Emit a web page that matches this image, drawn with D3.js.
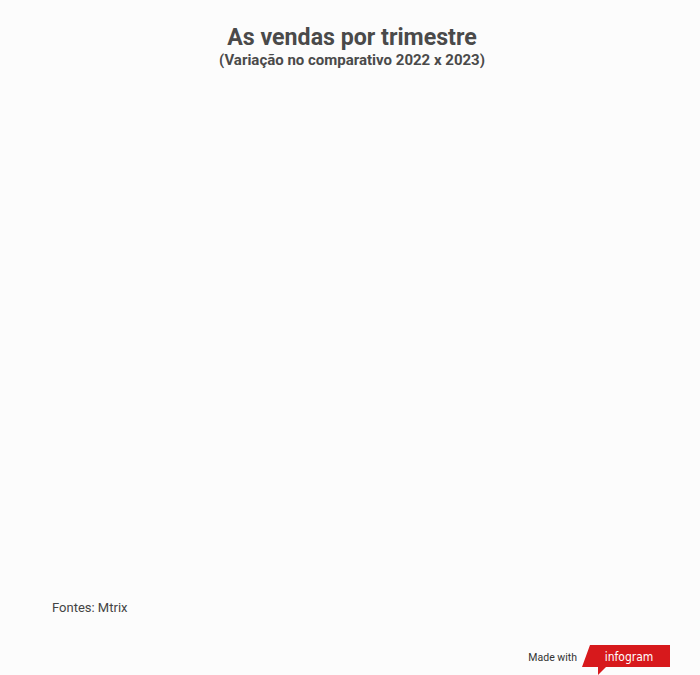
<!DOCTYPE html>
<html lang="pt">
<head>
<meta charset="utf-8">
<style>
  html, body { margin: 0; padding: 0; background: #fcfcfc; }
  svg { display: block; font-family: Roboto, "Noto Sans", sans-serif; }
</style>
</head>
<body>
<script src="https://d3js.org/d3.v7.min.js"></script>
<script>
// the reference shows no plotted marks: the data series are empty
var quarters = [];
var sales2022 = [];
var sales2023 = [];

var width = 700,
    height = 675;

var svg = d3.select("body").append("svg")
    .attr("width", width)
    .attr("height", height);

svg.append("rect")
    .attr("width", width)
    .attr("height", height)
    .attr("fill", "#fcfcfc");

// titles
svg.append("text")
    .attr("x", 352)
    .attr("y", 45)
    .attr("text-anchor", "middle")
    .attr("font-size", 23.2)
    .attr("font-weight", "bold")
    .attr("fill", "#4a4a4a")
    .text("As vendas por trimestre");

svg.append("text")
    .attr("x", 352)
    .attr("y", 65)
    .attr("text-anchor", "middle")
    .attr("font-size", 15)
    .attr("font-weight", "bold")
    .attr("fill", "#4a4a4a")
    .text("(Variação no comparativo 2022 x 2023)");

// plot area (empty in the reference)
var x = d3.scaleBand().domain(quarters).range([52, 650]).padding(0.3);
var y = d3.scaleLinear().domain([0, d3.max(sales2022.concat(sales2023)) || 1]).range([570, 100]);
var xs = d3.scaleBand().domain(["2022", "2023"]).range([0, x.bandwidth()]).padding(0.05);

var plot = svg.append("g");
plot.selectAll("rect.s2022")
    .data(sales2022)
    .enter().append("rect")
    .attr("class", "s2022")
    .attr("x", function (d, i) { return x(quarters[i]) + xs("2022"); })
    .attr("y", function (d) { return y(d); })
    .attr("width", xs.bandwidth())
    .attr("height", function (d) { return y(0) - y(d); })
    .attr("fill", "#c6c6c6");
plot.selectAll("rect.s2023")
    .data(sales2023)
    .enter().append("rect")
    .attr("class", "s2023")
    .attr("x", function (d, i) { return x(quarters[i]) + xs("2023"); })
    .attr("y", function (d) { return y(d); })
    .attr("width", xs.bandwidth())
    .attr("height", function (d) { return y(0) - y(d); })
    .attr("fill", "#d01f1f");

// source
svg.append("text")
    .attr("x", 52)
    .attr("y", 612)
    .attr("font-size", 13)
    .attr("fill", "#444")
    .text("Fontes: Mtrix");

// made with infogram badge
svg.append("text")
    .attr("x", 577)
    .attr("y", 661)
    .attr("text-anchor", "end")
    .attr("font-size", 10.5)
    .attr("fill", "#333")
    .text("Made with");

svg.append("path")
    .attr("d", "M590,645 L670,645 L670,667 L606,667 L598,675 L598,667 L582,667 Z")
    .attr("fill", "#d7191c");

svg.append("text")
    .attr("x", 629)
    .attr("y", 661)
    .attr("text-anchor", "middle")
    .attr("font-size", 12)
    .attr("font-family", "'DejaVu Sans Condensed', 'Liberation Sans Narrow', sans-serif")
    .attr("fill", "#fff")
    .text("infogram");
</script>
</body>
</html>
